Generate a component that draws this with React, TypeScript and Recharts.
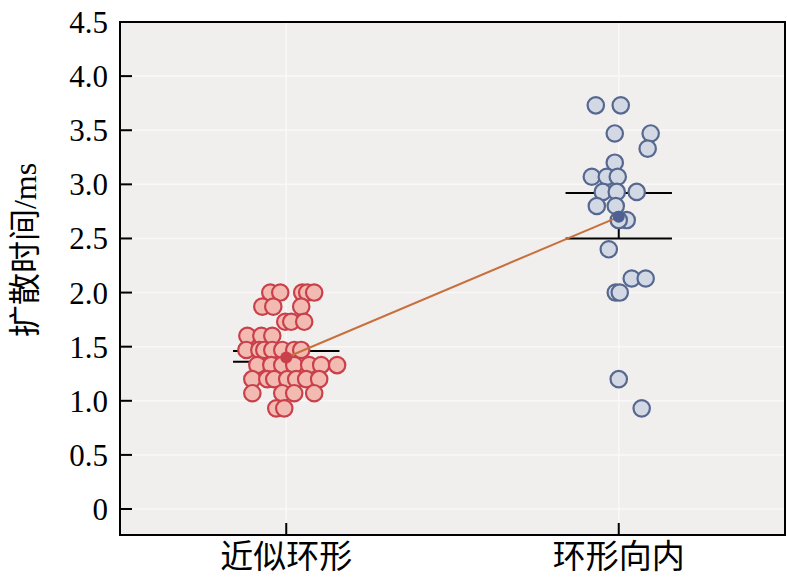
import React from 'react';
import {
  ScatterChart,
  Scatter,
  XAxis,
  YAxis,
  CartesianGrid,
  ReferenceArea
} from 'recharts';

const categories = ['近似环形', '环形向内'];
const yTicks = [0, 0.5, 1, 1.5, 2, 2.5, 3, 3.5, 4, 4.5];

// red group: jitter offset (x) and value (y)
const redX = [
  -0.048, -0.018, 0.048, 0.063, 0.084,
  -0.072, -0.039, 0.045,
  -0.003, 0.015, 0.054,
  -0.117, -0.075, -0.042,
  -0.12, -0.081, -0.066, -0.042, -0.012, 0.024, 0.045,
  -0.087, -0.045, -0.012, 0.024, 0.069, 0.105, 0.153,
  -0.102, -0.057, -0.036, 0.003, 0.03, 0.06, 0.099,
  -0.102, -0.012, 0.024, 0.084,
  -0.03, -0.006
];
const redY = [
  2.0, 2.0, 2.0, 2.0, 2.0,
  1.87, 1.87, 1.87,
  1.73, 1.73, 1.73,
  1.6, 1.6, 1.6,
  1.47, 1.47, 1.47, 1.47, 1.47, 1.47, 1.47,
  1.33, 1.33, 1.33, 1.33, 1.33, 1.33, 1.33,
  1.2, 1.2, 1.2, 1.2, 1.2, 1.2, 1.2,
  1.07, 1.07, 1.07, 1.07,
  0.93, 0.93
];

// blue group
const blueX = [
  -0.069, 0.006,
  -0.012, 0.096,
  0.087,
  -0.012,
  -0.081, -0.036, -0.003,
  -0.048, -0.006, 0.054,
  -0.066, -0.009,
  0.024, 0.0,
  -0.03,
  0.039, 0.081,
  -0.009, 0.003,
  0.0,
  0.069
];
const blueY = [
  3.73, 3.73,
  3.47, 3.47,
  3.33,
  3.2,
  3.07, 3.07, 3.07,
  2.93, 2.93, 2.93,
  2.8, 2.8,
  2.67, 2.67,
  2.4,
  2.13, 2.13,
  2.0, 2.0,
  1.2,
  0.93
];

const means = [1.4, 2.7];
const upperBars = [1.46, 2.92];
const lowerBars = [1.36, 2.5];
const barHalfWidth = 0.16;

const redPoints = redX.map((x, i) => ({ x, y: redY[i] }));
const bluePoints = blueX.map((x, i) => ({ x: 1 + x, y: blueY[i] }));
const meanPoints = means.map((y, i) => ({ x: i, y }));

const RED_FILL = '#f3bab2';
const RED_STROKE = '#c9404a';
const BLUE_FILL = '#d2d9e5';
const BLUE_STROKE = '#566890';

const noDot = () => <g />;

const makeDot = (fill: string, stroke: string) => (props: any) => (
  <circle cx={props.cx} cy={props.cy} r={8.2} fill={fill} stroke={stroke} strokeWidth={2.2} />
);

const MeanDot = (props: any) => (
  <circle
    cx={props.cx}
    cy={props.cy}
    r={6}
    fill={props.index === 0 ? '#c9404a' : '#4f6190'}
  />
);

const font = '"Liberation Serif", "Noto Sans CJK SC", serif';

export default function App() {
  const segments: { x: number; y: number }[][] = [];
  means.forEach((_, i) => {
    segments.push([{ x: i - barHalfWidth, y: upperBars[i] }, { x: i + barHalfWidth, y: upperBars[i] }]);
    segments.push([{ x: i - barHalfWidth, y: lowerBars[i] }, { x: i + barHalfWidth, y: lowerBars[i] }]);
    segments.push([{ x: i, y: lowerBars[i] }, { x: i, y: upperBars[i] }]);
  });

  return (
    <div style={{ position: 'absolute', left: 0, top: 0, background: '#fff' }}>
      <ScatterChart
        width={787}
        height={581}
        margin={{ top: 22, right: 2, bottom: 0, left: 0 }}
      >
        <CartesianGrid fill="#f1eeee" stroke="#f9f7f7" strokeWidth={1.5} />
        <XAxis
          type="number"
          dataKey="x"
          domain={[-0.5, 1.5]}
          ticks={[0, 1]}
          tickFormatter={(v: number) => categories[v]}
          allowDataOverflow
          height={46}
          stroke="#000"
          strokeWidth={2}
          tickSize={-12}
          tickMargin={22}
          tick={{ fill: '#000', fontSize: 33, fontFamily: font }}
        />
        <YAxis
          type="number"
          dataKey="y"
          domain={[-0.24, 4.5]}
          ticks={yTicks}
          tickFormatter={(v: number) => (v === 0 ? '0' : v.toFixed(1))}
          allowDataOverflow
          width={120}
          stroke="#000"
          strokeWidth={2}
          tickSize={-12}
          tickMargin={24}
          tick={{ fill: '#000', fontSize: 31, fontFamily: font }}
          label={{
            content: () => (
              <text
                transform="translate(36,250) rotate(-90)"
                textAnchor="middle"
                fontSize={32}
                fontFamily={font}
                fill="#000"
              >
                扩散时间/ms
              </text>
            )
          }}
        />
        {segments.map((seg, i) => (
          <Scatter
            key={`seg-${i}`}
            data={seg}
            line={{ stroke: '#000', strokeWidth: 2 }}
            shape={noDot}
            isAnimationActive={false}
          />
        ))}
        <Scatter data={redPoints} shape={makeDot(RED_FILL, RED_STROKE)} isAnimationActive={false} />
        <Scatter data={bluePoints} shape={makeDot(BLUE_FILL, BLUE_STROKE)} isAnimationActive={false} />
        <Scatter
          data={meanPoints}
          line={{ stroke: '#c8703c', strokeWidth: 2 }}
          shape={MeanDot}
          isAnimationActive={false}
        />
        <ReferenceArea
          x1={-0.5}
          x2={1.5}
          y1={-0.24}
          y2={4.5}
          fill="none"
          stroke="#000"
          strokeWidth={2}
          fillOpacity={0}
        />
      </ScatterChart>
    </div>
  );
}
